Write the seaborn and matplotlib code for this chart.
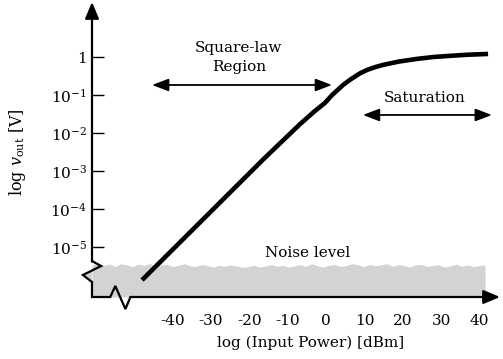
import numpy as np
import pandas as pd
import matplotlib
matplotlib.use("Agg")
import matplotlib.pyplot as plt
from matplotlib.patches import FancyArrowPatch, Polygon
import seaborn as sns

# Detector response: input power [dBm] vs log10 of output voltage [V]
power_dbm = [-47.9, -16.4, -6.8, -3.0, -0.3, 1.6, 4.4, 6.25, 8.85, 10.7, 12.7, 14.8,
             19.0, 23.7, 28.0, 32.3, 37.0, 42.2]
log_vout = [-5.87, -2.70, -1.77, -1.43, -1.21, -1.00, -0.74, -0.60, -0.43, -0.34, -0.27,
            -0.21, -0.12, -0.05, 0.00, 0.03, 0.06, 0.08]

# Noise floor contour (log10 V), sampled across the power axis
noise_top = [
    -5.47, -5.43, -5.49, -5.45, -5.51, -5.44, -5.47, -5.52, -5.45, -5.49,
    -5.43, -5.51, -5.47, -5.46, -5.52, -5.48, -5.44, -5.50, -5.51, -5.46,
    -5.49, -5.53, -5.48, -5.51, -5.47, -5.50, -5.53, -5.52, -5.48, -5.53,
    -5.50, -5.46, -5.51, -5.48, -5.53, -5.50, -5.46, -5.51, -5.44, -5.49,
    -5.53, -5.48, -5.46, -5.51, -5.49, -5.44, -5.47, -5.52, -5.46, -5.49,
    -5.47, -5.44, -5.51, -5.46, -5.49, -5.53, -5.47, -5.46, -5.51, -5.49,
    -5.47, -5.53, -5.50, -5.45, -5.51, -5.47, -5.52, -5.49, -5.47,
]
noise_start, noise_end = -60.94, 41.4

x_ticks = [-40, -30, -20, -10, 0, 10, 20, 30, 40]
x_ticklabels = ["-40", "-30", "-20", "-10", "0", "10", "20", "30", "40"]
y_ticks = [-5, -4, -3, -2, -1, 0]
y_ticklabels = [r"$10^{-5}$", r"$10^{-4}$", r"$10^{-3}$", r"$10^{-2}$", r"$10^{-1}$", r"$1$"]

sns.set_theme(style="white")
plt.rcParams["font.family"] = ["DejaVu Serif"]
plt.rcParams["mathtext.fontset"] = "dejavuserif"
plt.rcParams["text.color"] = "black"

W, H = 503, 359
fig = plt.figure(figsize=(W / 100, H / 100), dpi=100)
ax = fig.add_axes([92 / W, 62 / H, (500 - 92) / W, (357 - 62) / H])
ax.set_xlim(-60.94, 45.31)
ax.set_ylim(-6.316, 1.447)
for s in ax.spines.values():
    s.set_visible(False)

fs = 11
ax.set_xticks(x_ticks)
ax.set_xticklabels(x_ticklabels, fontsize=fs, color="black")
ax.set_yticks(y_ticks)
ax.set_yticklabels(y_ticklabels, fontsize=fs, color="black")
ax.tick_params(axis="x", direction="in", length=7.2, width=1.0, pad=12, colors="black",
               bottom=True, top=False)
ax.tick_params(axis="y", direction="in", length=8.6, width=1.0, pad=3.6, colors="black",
               left=True, right=False)

# Noise floor band
noise_x = np.linspace(noise_start, noise_end, len(noise_top))
ax.fill_between(noise_x, noise_top, -6.316, color="#d3d3d3", lw=0, zorder=1)
ax.add_patch(Polygon([(0, 0.0508), (-0.0223, 0.0746), (0, 0.0898)], closed=True,
                     transform=ax.transAxes, facecolor="#d3d3d3", lw=0,
                     clip_on=False, zorder=1))

# Response curve
df = pd.DataFrame({"power": power_dbm, "vout": log_vout})
sns.lineplot(data=df, x="power", y="vout", color="black", linewidth=3.3, ax=ax,
             zorder=4, solid_capstyle="butt", solid_joinstyle="round", sort=False)
ax.set_xlabel("")
ax.set_ylabel("")

# Axes with break marks
axis_lw = 1.6
ax.plot([0, 0, 0.0223, -0.0223, 0, 0, 0.0447, 0.0571, 0.0819, 0.0943],
        [0.125, 0.122, 0.105, 0.0746, 0.0508, 0, 0, 0.0373, -0.0407, 0],
        transform=ax.transAxes, color="black", lw=axis_lw, clip_on=False,
        zorder=5, solid_joinstyle="miter")

def arrow(p0, p1, style, transform, lw):
    a = FancyArrowPatch(p0, p1, arrowstyle=style, mutation_scale=10, lw=lw,
                        color="black", shrinkA=0, shrinkB=0, transform=transform,
                        clip_on=False, zorder=5)
    ax.add_patch(a)

arrow((0, 0.12), (0, 1.0), "-|>,head_length=1.0,head_width=0.42", ax.transAxes, axis_lw)
arrow((0.0943, 0), (1.0, 0), "-|>,head_length=1.0,head_width=0.42", ax.transAxes, axis_lw)

# Region annotations
arrow((-45.3, -0.737), (1.56, -0.737), "<|-|>,head_length=1.0,head_width=0.38",
      ax.transData, 1.3)
arrow((9.6, -1.526), (43.2, -1.526), "<|-|>,head_length=1.0,head_width=0.38",
      ax.transData, 1.3)
ax.text(-22.7, -0.013, "Square-law\nRegion", ha="center", va="center",
        fontsize=fs, linespacing=1.4)
ax.text(25.8, -1.079, "Saturation", ha="center", va="center", fontsize=fs)
ax.text(-4.7, -5.158, "Noise level", ha="center", va="center", fontsize=fs)

# Axis titles
fig.text(311 / W, 1 - 343 / H, "log (Input Power) [dBm]", ha="center", va="center",
         fontsize=fs)
fig.text(18 / W, 1 - 152 / H, r"log $v_{\mathrm{out}}$ [V]", ha="center", va="center",
         rotation=90, fontsize=fs + 0.5)

fig.savefig("out.png", dpi=100)
